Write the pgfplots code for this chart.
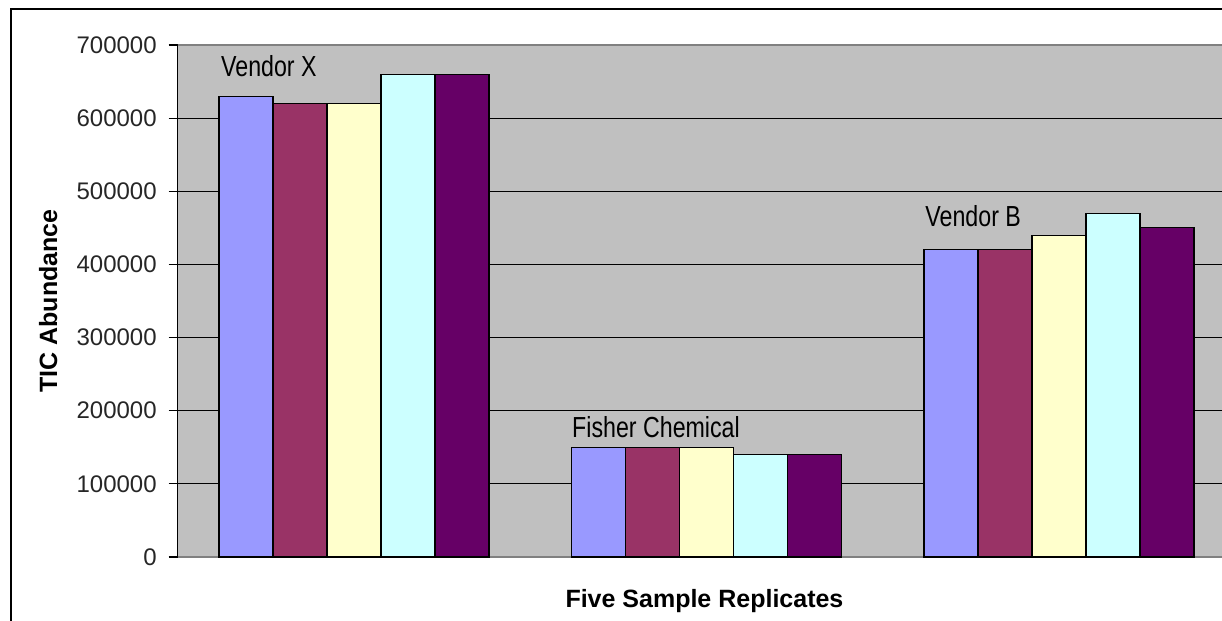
\documentclass[border=0pt]{standalone}
\usepackage{fontspec}
\setmainfont{Liberation Sans}
\newfontfamily\narrowfont[FakeStretch=0.8]{Liberation Sans}
\usepackage{pgfplots}
\pgfplotsset{compat=1.18}
\definecolor{cA}{HTML}{9999FF}
\definecolor{cB}{HTML}{993366}
\definecolor{cC}{HTML}{FFFFCC}
\definecolor{cD}{HTML}{CCFFFF}
\definecolor{cE}{HTML}{660066}
\definecolor{plotgray}{HTML}{C0C0C0}
\definecolor{bordergray}{HTML}{808080}
\begin{document}
\begin{tikzpicture}
\draw[black, line width=0.6pt] (5.5pt,0pt) -- (5.5pt,306pt) -- (611pt,306pt);
\begin{axis}[
  at={(88.875pt,32pt)}, anchor=south west,
  scale only axis,
  width=522.125pt, height=256pt,
  xmin=-0.5, xmax=2.4624,
  ymin=0, ymax=700000,
  scaled y ticks=false,
  axis y line*=left, axis x line*=bottom,
  x axis line style={bordergray, line width=0.6pt, -},
  y axis line style={black, line width=0.6pt, -},
  axis background/.style={fill=plotgray},
  xtick=\empty,
  ytick={0,100000,200000,300000,400000,500000,600000,700000},
  yticklabels={0,100000,200000,300000,400000,500000,600000,700000},
  yticklabel style={font=\fontsize{12}{14}\selectfont, text=black!85, xshift=-2.5pt},
  tick align=outside,
  major tick length=4.5pt,
  tick style={black, line width=0.6pt},
  extra y ticks={100000,200000,300000,400000,500000,600000},
  extra y tick labels={},
  extra y tick style={grid=major, major tick length=0pt},
  grid style={black, line width=0.6pt},
  ybar=0pt, bar width=27pt,
  every axis plot/.append style={draw=black, line width=0.6pt},
  ylabel={TIC Abundance},
  ylabel style={at={(axis description cs:-0.124,0.5)}, anchor=center, font=\bfseries\fontsize{12.5}{15}\selectfont},
  xlabel={Five Sample Replicates},
  xlabel style={at={(axis description cs:0.5044,-0.0977)}, anchor=base, font=\bfseries\fontsize{12.5}{15}\selectfont},
  clip=false,
]
\addplot[fill=cA] coordinates {(0,630000) (1,150000) (2,420000)};
\addplot[fill=cB] coordinates {(0,620000) (1,150000) (2,420000)};
\addplot[fill=cC] coordinates {(0,620000) (1,150000) (2,440000)};
\addplot[fill=cD] coordinates {(0,660000) (1,140000) (2,470000)};
\addplot[fill=cE] coordinates {(0,660000) (1,140000) (2,450000)};
\draw[bordergray, line width=0.6pt] (rel axis cs:0,1) -- (rel axis cs:1,1);
\node[anchor=base west, inner sep=0pt, font=\narrowfont\fontsize{14.5}{17}\selectfont] at (axis cs:-0.378,657600) {Vendor X};
\node[anchor=base west, inner sep=0pt, font=\narrowfont\fontsize{14.5}{17}\selectfont] at (axis cs:0.618,164000) {Fisher Chemical};
\node[anchor=base west, inner sep=0pt, font=\narrowfont\fontsize{14.5}{17}\selectfont] at (axis cs:1.620,452500) {Vendor B};
\end{axis}
\pgfresetboundingbox
\path[use as bounding box] (0pt,0pt) rectangle (611pt,310.5pt);
\end{tikzpicture}
\end{document}
